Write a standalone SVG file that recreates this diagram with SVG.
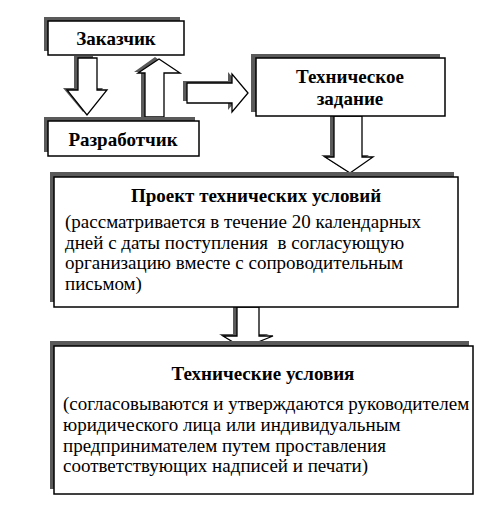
<svg xmlns="http://www.w3.org/2000/svg" width="500" height="510" viewBox="0 0 500 510">
<style>
.box{fill:#fff;stroke:#000;stroke-width:1.5}
.sh{fill:#5a5a5a}
.arr{fill:#fff;stroke:#000;stroke-width:1.3;stroke-linejoin:miter}
.ash{fill:#5a5a5a}
</style>
<rect width="500" height="510" fill="#fff"/>
<g id="connectors">
  <g id="arrow-zak-razr">
    <path class="ash" d="M74,56 H93 V88 H103 L83,112 L63,88 H74 Z"/>
    <path class="arr" d="M78,58 H97 V90 H107 L87,115 L67,90 H78 Z"/>
  </g>
  <g id="arrow-razr-zak">
    <path class="ash" d="M141,117 V72 H134 L155,57 L176,72 H160 V117 Z"/>
    <path class="arr" d="M145,117 V73 H138 L159,59 L180,73 H164 V117 Z"/>
  </g>
  <g id="arrow-to-tz">
    <path class="ash" d="M183,81 H228 V72 L244,91 L228,110 V101 H183 Z"/>
    <path class="arr" d="M187,83 H232 V74 L248,93 L232,112 V103 H187 Z"/>
  </g>
  <g id="arrow-tz-proekt">
    <path class="ash" d="M330,116 H358 V155 H369 L346,171 L321,155 H330 Z"/>
    <path class="arr" d="M334,116 H362 V157 H373 L350,173 L325,157 H334 Z"/>
  </g>
  <g id="arrow-proekt-tu">
    <path class="ash" d="M233,307 H255 V334 H269 L239,346 L219,334 H233 Z"/>
    <path class="arr" d="M237,307 H259 V336 H273 L243,348 L223,336 H237 Z"/>
  </g>
</g>
<g font-family="'Liberation Serif', serif" font-size="19" fill="#000">
<g id="zakazchik">
  <rect class="sh" x="44" y="17" width="136" height="34"/>
  <rect class="box" x="48" y="21" width="136" height="34"/>
  <text x="116" y="45" font-weight="bold" text-anchor="middle">Заказчик</text>
</g>
<g id="razrabotchik">
  <rect class="sh" x="44" y="117" width="151" height="35"/>
  <rect class="box" x="48" y="121" width="151" height="35"/>
  <text x="123" y="146" font-weight="bold" text-anchor="middle">Разработчик</text>
</g>
<g id="tz">
  <rect class="sh" x="251" y="54" width="189" height="58"/>
  <rect class="box" x="256" y="58" width="189" height="58"/>
  <text x="350" y="83" font-weight="bold" text-anchor="middle">Техническое</text>
  <text x="350" y="105" font-weight="bold" text-anchor="middle">задание</text>
</g>
<g id="proekt">
  <rect class="sh" x="50" y="172" width="404" height="130"/>
  <rect class="box" x="54" y="177" width="404" height="130"/>
  <text x="256" y="202" font-weight="bold" text-anchor="middle">Проект технических условий</text>
  <text x="65" y="228">(рассматривается в течение 20 календарных</text>
  <text x="65" y="249" xml:space="preserve">дней с даты поступления  в согласующую</text>
  <text x="65" y="269">организацию вместе с сопроводительным</text>
  <text x="65" y="290">письмом)</text>
</g>
<g id="tu">
  <rect class="sh" x="50" y="341" width="419" height="148"/>
  <rect class="box" x="54" y="346" width="419" height="148"/>
  <text x="263" y="380" font-weight="bold" text-anchor="middle">Технические условия</text>
  <text x="63" y="410">(согласовываются и утверждаются руководителем</text>
  <text x="63" y="431">юридического лица или индивидуальным</text>
  <text x="63" y="452">предпринимателем путем проставления</text>
  <text x="63" y="472">соответствующих надписей и печати)</text>
</g>
</g>
</svg>
